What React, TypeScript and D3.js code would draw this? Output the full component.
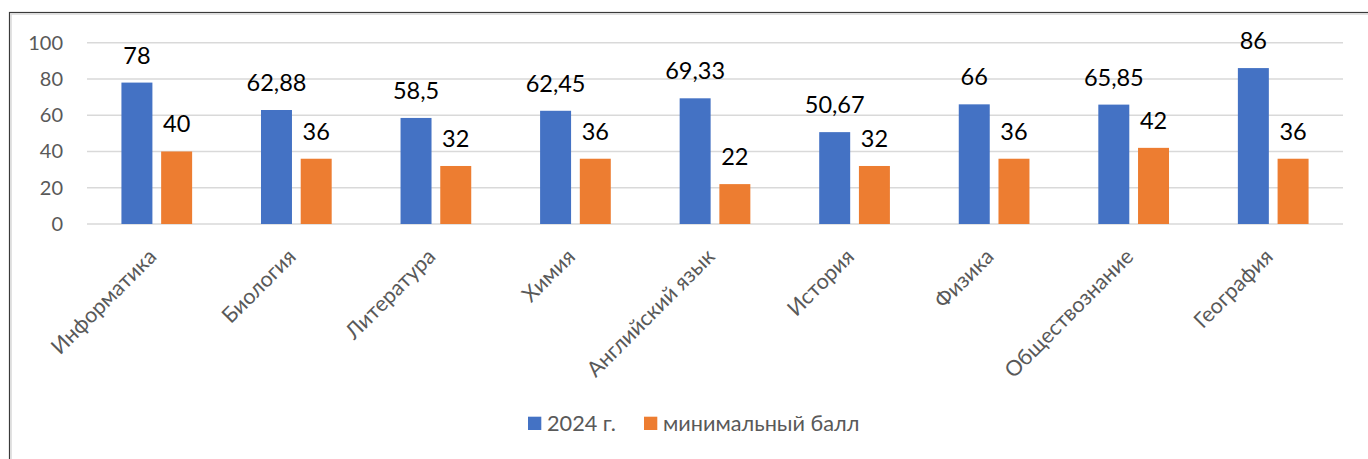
import { useEffect, useRef } from "react";
import * as d3 from "d3";

const categories = [
  "Информатика",
  "Биология",
  "Литература",
  "Химия",
  "Английский язык",
  "История",
  "Физика",
  "Обществознание",
  "География",
];
const series = ["2024 г.", "минимальный балл"];
const values2024 = [78, 62.88, 58.5, 62.45, 69.33, 50.67, 66, 65.85, 86];
const valuesMin = [40, 36, 32, 36, 22, 32, 36, 42, 36];
const yTicks = [0, 20, 40, 60, 80, 100];
const colors = ["#4472C4", "#ED7D31"];

const FONT = "Lato, 'Open Sans', sans-serif";

export default function App() {
  const svgRef = useRef<SVGSVGElement>(null);

  useEffect(() => {
    if (!svgRef.current) return;
    const svg = d3.select(svgRef.current);
    svg.selectAll("*").remove();

    const width = 1368;
    const height = 459;

    // chart frame (runs off the right and bottom of the picture)
    svg.append("rect")
      .attr("x", 9.5).attr("y", 12.5)
      .attr("width", width + 20).attr("height", height + 20)
      .attr("fill", "white")
      .attr("stroke", "#3a3a3a").attr("stroke-width", 1.2);
    svg.append("path")
      .attr("d", `M11,${height + 10}V14H${width + 10}`)
      .attr("fill", "none")
      .attr("stroke", "#d9d9d9").attr("stroke-width", 1.5);

    const x = d3.scaleBand().domain(categories).range([87, 1343]).padding(0);
    const x1 = d3.scaleBand().domain(series).range([-35.35, 35.35]).paddingInner(0.22);
    const y = d3.scaleLinear().domain([0, 100]).range([224, 42.7]);

    // gridlines
    svg.append("g")
      .selectAll("line")
      .data(yTicks)
      .enter()
      .append("line")
      .attr("x1", 87).attr("x2", 1343)
      .attr("y1", (d) => y(d)).attr("y2", (d) => y(d))
      .attr("stroke", "#d9d9d9").attr("stroke-width", 1.5);

    // y tick labels
    svg.append("g")
      .selectAll("text")
      .data(yTicks)
      .enter()
      .append("text")
      .attr("x", 63)
      .attr("y", (d) => y(d))
      .attr("dy", "0.35em")
      .attr("text-anchor", "end")
      .attr("font-family", FONT)
      .attr("font-size", 20)
      .attr("fill", "#595959")
      .text((d) => d);

    const fmt = (v: number) => String(v).replace(".", ",");
    const seriesData = [values2024, valuesMin];

    seriesData.forEach((vals, si) => {
      const g = svg.append("g");
      g.selectAll("rect")
        .data(vals)
        .enter()
        .append("rect")
        .attr("x", (_, i) => x(categories[i])! + x.bandwidth() / 2 + x1(series[si])!)
        .attr("y", (d) => y(d))
        .attr("width", x1.bandwidth())
        .attr("height", (d) => y(0) - y(d))
        .attr("fill", colors[si]);

      g.selectAll("text")
        .data(vals)
        .enter()
        .append("text")
        .attr("x", (_, i) => x(categories[i])! + x.bandwidth() / 2 + x1(series[si])! + x1.bandwidth() / 2)
        .attr("y", (d) => y(d) - 19)
        .attr("text-anchor", "middle")
        .attr("font-family", FONT)
        .attr("font-size", 23.5)
        .attr("fill", "#000")
        .text((d) => fmt(d));
    });

    // category labels, rotated
    svg.append("g")
      .selectAll("text")
      .data(categories)
      .enter()
      .append("text")
      .attr("transform", (d) => `translate(${x(d)! + x.bandwidth() / 2 + 1},258) rotate(-45)`)
      .attr("text-anchor", "end")
      .attr("font-family", FONT)
      .attr("font-size", 21.5)
      .attr("fill", "#595959")
      .text((d) => d);

    // legend
    const legendX = [528, 644];
    series.forEach((s, i) => {
      svg.append("rect")
        .attr("x", legendX[i]).attr("y", 416.7)
        .attr("width", 13.3).attr("height", 13.3)
        .attr("fill", colors[i]);
      svg.append("text")
        .attr("x", legendX[i] + 19)
        .attr("y", 423.3)
        .attr("dy", "0.35em")
        .attr("font-family", FONT)
        .attr("font-size", 21.7)
        .attr("fill", "#595959")
        .text(s);
    });
  }, []);

  return (
    <svg
      ref={svgRef}
      width={1368}
      height={459}
      style={{ position: "absolute", left: 0, top: 0, display: "block" }}
    />
  );
}
